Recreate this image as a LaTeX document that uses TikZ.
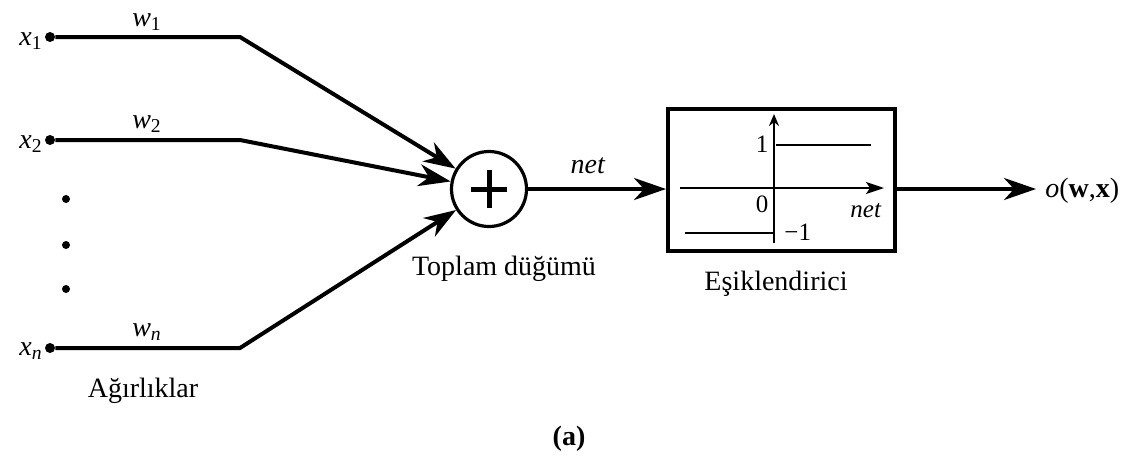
\documentclass[tikz,border=0pt]{standalone}
\usepackage{fontspec}
\setmainfont{Liberation Serif}
\usetikzlibrary{arrows.meta}
\begin{document}
\begin{tikzpicture}[x=0.5pt,y=-0.5pt,
  wire/.style={line width=2pt},
  arr/.style={wire,-{Stealth[length=16pt,width=11pt,inset=5pt]}},
  lbl/.style={font=\fontsize{14}{16}\selectfont, inner sep=0pt},
  small/.style={font=\fontsize{12.5}{14}\selectfont, inner sep=0pt},
  dotn/.style={circle,fill,inner sep=0pt,minimum size=5pt},
  vdot/.style={circle,fill,inner sep=0pt,minimum size=4pt},
  axis/.style={line width=1pt},
  stepline/.style={line width=1.2pt}]
\useasboundingbox (0,0) rectangle (1133,461);

% inputs
\node[dotn] (x1) at (50,37) {};
\node[dotn] (x2) at (50,140) {};
\node[dotn] (xn) at (50,348) {};
\node[vdot] (d1) at (66,199) {};
\node[vdot] (d2) at (66,245) {};
\node[vdot] (d3) at (66,289) {};

\node[lbl,anchor=base east] (lx1) at (43,45) {\textit{x}\textsubscript{1}};
\node[lbl,anchor=base east] (lx2) at (43,148) {\textit{x}\textsubscript{2}};
\node[lbl,anchor=base east] (lxn) at (43,355) {\textit{x}\textsubscript{\textit{n}}};

\node[lbl,anchor=base] (lw1) at (147,26) {\textit{w}\textsubscript{1}};
\node[lbl,anchor=base] (lw2) at (147,128) {\textit{w}\textsubscript{2}};
\node[lbl,anchor=base] (lwn) at (147,336) {\textit{w}\textsubscript{\textit{n}}};
\node[lbl,anchor=base] (agr) at (143,397) {Ağırlıklar};

\coordinate (b1) at (240,37);
\coordinate (b2) at (240,140);
\coordinate (bn) at (240,348);

% summation node
\node[circle,draw,line width=1.6pt,minimum size=37.5pt,inner sep=0pt] (sum) at (489,189) {};
\draw[line width=2.5pt] ([xshift=-9pt]sum.center) -- ([xshift=9pt]sum.center);
\draw[line width=2.5pt] ([yshift=-9.5pt]sum.center) -- ([yshift=9.5pt]sum.center);
\node[lbl,anchor=base] (top) at (504,275) {Toplam düğümü};

\draw[arr] (x1) -- (b1) -- (sum);
\draw[arr] (x2) -- (b2) -- (sum);
\draw[arr] (xn) -- (bn) -- (sum);

% threshold box
\node[draw,line width=2pt,minimum width=113.5pt,minimum height=71pt,inner sep=0pt] (box) at (781.5,180) {};
\node[lbl,anchor=base] (esik) at (776,290) {Eşiklendirici};
\node[lbl,anchor=base] (net) at (588,173) {\textit{net}};
\draw[arr] (sum) -- (sum -| box.west);

% step function inside
\coordinate (vb) at (774,243);
\coordinate (vt) at (774,114);
\coordinate (hl) at (680,188);
\coordinate (hr) at (884,188);
\draw[axis,-{Stealth[length=6pt,width=5pt]}] (vb) -- (vt);
\draw[axis,-{Stealth[length=9pt,width=6pt,inset=2pt]}] (hl) -- (hr);
\coordinate (s1a) at (776,145);
\coordinate (s1b) at (871,145);
\coordinate (s2a) at (685,233);
\coordinate (s2b) at (774,233);
\draw[stepline] (s1a) -- (s1b);
\draw[stepline] (s2a) -- (s2b);
\node[small,anchor=base] (one) at (762,152) {1};
\node[small,anchor=base] (zero) at (762,212) {0};
\node[small,anchor=base] (inet) at (866,217) {\textit{net}};
\node[small,anchor=base west] (mone) at (784,240) {−1};

% output
\node[lbl,anchor=base west] (out) at (1045,197) {\textit{o}(\textbf{w},\textbf{x})};
\coordinate (otip) at (1036,189);
\draw[arr] (box.east |- otip) -- (otip);

\node[lbl,anchor=base] (cap) at (569,445) {\textbf{(a)}};
\end{tikzpicture}
\end{document}
